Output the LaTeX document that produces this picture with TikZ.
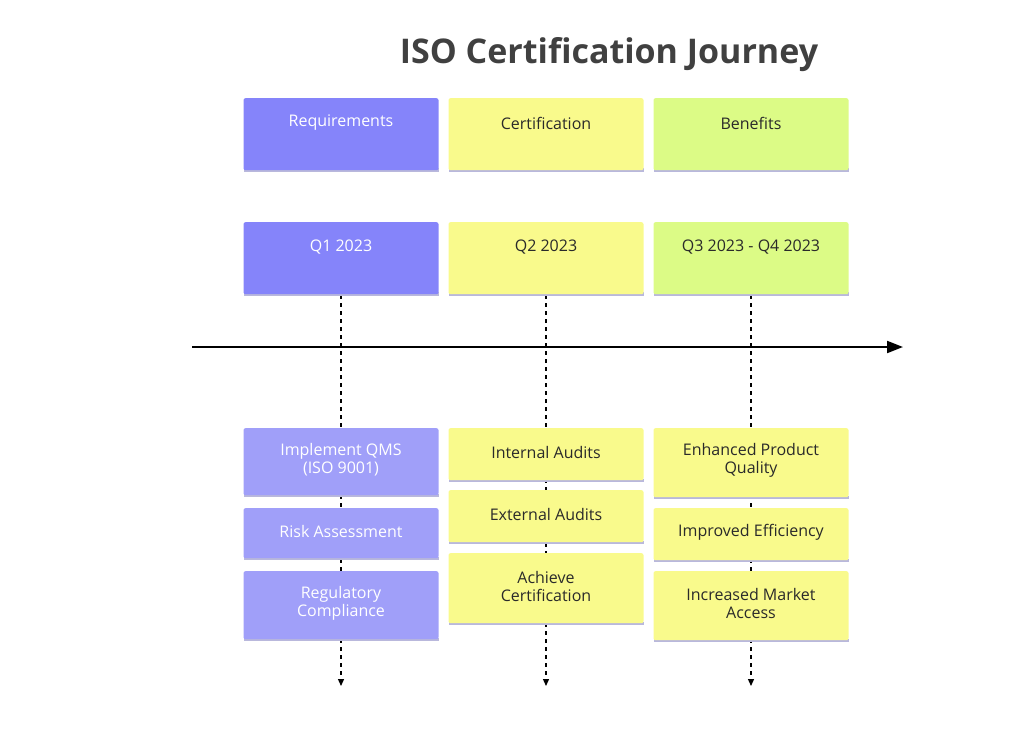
\documentclass[tikz,border=0pt]{standalone}
\usepackage{fontspec}
\setmainfont{Open Sans}
\usetikzlibrary{arrows.meta}
\definecolor{pur}{HTML}{8584FA}
\definecolor{lpur}{HTML}{A09FF9}
\definecolor{yel}{HTML}{F9FA8C}
\definecolor{grn}{HTML}{DCFB86}
\definecolor{strip}{HTML}{B9B8DC}
\definecolor{dk}{HTML}{2A2A2A}
\begin{document}
\begin{tikzpicture}[x=1pt,y=-1pt,
 box/.style={draw=none,rounded corners=2pt,minimum width=195pt,inner sep=0pt,anchor=north},
 lbl/.style={align=center,font=\fontsize{16}{18}\selectfont},
 dashln/.style={line width=1.3pt,dash pattern=on 4pt off 4pt},
 dar/.style={dashln,-{Triangle[length=7pt,width=6pt]}}]
\useasboundingbox (0,0) rectangle (1024,738);
\node[font=\bfseries\fontsize{34}{38}\selectfont,text=black!75] (title) at (609,55) {ISO Certification Journey};
\foreach \x/\n in {341/a,546/b,751/c}{
  \coordinate (top\n) at (\x,295);
  \coordinate (end\n) at (\x,686);
  \draw[dar] (top\n) -- (end\n);
}
\coordinate (t0) at (192,347);
\coordinate (t1) at (903,347);
\draw[line width=2pt,-{Triangle[length=16pt,width=12pt]}] (t0) -- (t1);
% top boxes
\foreach \x/\y/\c/\tc/\n/\t in {
 341/98/pur/white/h1/Requirements,546/98/yel/dk/h2/Certification,751/98/grn/dk/h3/Benefits,
 341/222/pur/white/q1/Q1 2023,546/222/yel/dk/q2/Q2 2023,751/222/grn/dk/q3/Q3 2023 - Q4 2023}{
  \fill[strip] (\x-97.5,\y+70) rectangle (\x+97.5,\y+74);
  \node[box,fill=\c,minimum height=72pt] (\n) at (\x,\y) {};
  \node[lbl,text=\tc] (\n t) at (\x,\y+25) {\t};
}
% lower boxes
\foreach \x/\y/\h/\c/\tc/\n/\t in {
 341/428/67/lpur/white/r1/{Implement QMS\\(ISO 9001)},
 341/508/50/lpur/white/r2/{Risk Assessment},
 341/571/68/lpur/white/r3/{Regulatory\\Compliance},
 546/428/52/yel/dk/c1/{Internal Audits},
 546/490/52/yel/dk/c2/{External Audits},
 546/553/70/yel/dk/c3/{Achieve\\Certification},
 751/428/69/yel/dk/b1/{Enhanced Product\\Quality},
 751/508/52/yel/dk/b2/{Improved Efficiency},
 751/571/69/yel/dk/b3/{Increased Market\\Access}}{
  \fill[strip] (\x-97.5,\y+\h-1) rectangle (\x+97.5,\y+\h+2);
  \node[box,fill=\c,minimum height=\h pt] (\n) at (\x,\y) {};
  \node[lbl,text=\tc] (\n t) at (\x,\y+\h/2-2) {\t};
}
\end{tikzpicture}
\end{document}
